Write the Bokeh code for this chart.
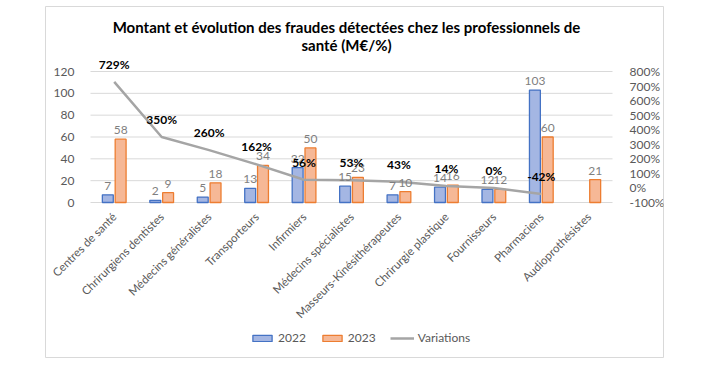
import math
from bokeh.plotting import figure
from bokeh.models import (ColumnDataSource, Range1d, LinearAxis, FixedTicker,
                          PrintfTickFormatter, LabelSet, Label, Legend, LegendItem)
from bokeh.transform import dodge
from bokeh.embed import file_html
from bokeh.resources import INLINE
from bokeh.core.properties import value

categories = ["Centres de santé", "Chrirurgiens dentistes", "Médecins généralistes",
              "Transporteurs", "Infirmiers", "Médecins spécialistes",
              "Masseurs-Kinésithérapeutes", "Chrirurgie plastique", "Fournisseurs",
              "Pharmaciens", "Audioprothésistes"]
v2022 = [7, 2, 5, 13, 32, 15, 7, 14, 12, 103, None]
v2023 = [58, 9, 18, 34, 50, 23, 10, 16, 12, 60, 21]
variations = [729, 350, 260, 162, 56, 53, 43, 14, 0, -42, None]
left_ticks = [0, 20, 40, 60, 80, 100, 120]
right_ticks = [-100, 0, 100, 200, 300, 400, 500, 600, 700, 800]
title_lines = ["Montant et évolution des fraudes détectées chez les professionnels de",
               "santé (M€/%)"]

FONT = "Lato"
GRAY = "#595959"
n = len(categories)
xs = list(range(n))

def keep(vals):
    idx = [i for i, v in zip(xs, vals) if v is not None]
    vs = [v for v in vals if v is not None]
    return idx, vs

c22, y22 = keep(v2022)
c23, y23 = keep(v2023)
cv, yv = keep(variations)

src22 = ColumnDataSource(dict(x=c22, val=y22, lbl=[str(v) for v in y22]))
src23 = ColumnDataSource(dict(x=c23, val=y23, lbl=[str(v) for v in y23]))
srcv = ColumnDataSource(dict(x=cv, val=yv, lbl=[f"{v}%" for v in yv]))

# layout geometry (pixels)
W, H = 664, 358
FL, FR, FT, FB = 45, 663, 6, 357          # chart box = frame
PL, PR, PT, PB = 90, 612, 71, 202         # plot area
cw = (PR - PL) / n                        # px per category
ppu = (PB - PT) / (left_ticks[-1] - left_ticks[0])   # px per left unit
pct_per_unit = (right_ticks[-1] - right_ticks[0]) / (left_ticks[-1] - left_ticks[0])

x0 = -0.5 - (PL - FL) / cw
x1 = n - 0.5 + (FR - PR) / cw
y0 = -(FB - PB) / ppu
y1 = (PB - FT) / ppu

p = figure(x_range=Range1d(x0, x1), y_range=Range1d(y0, y1),
           width=W, height=H, output_backend="svg", toolbar_location=None,
           min_border_left=FL, min_border_right=W - FR, min_border_top=FT,
           min_border_bottom=H - FB)
p.outline_line_color = "#D9D9D9"
p.outline_line_width = 1
p.extra_y_ranges = {"pct": Range1d(right_ticks[0] + pct_per_unit * y0,
                                   right_ticks[0] + pct_per_unit * y1)}
p.xgrid.grid_line_color = None
p.ygrid.grid_line_color = None

# gridlines limited to plot area
p.segment(x0=[-0.5] * len(left_ticks), x1=[n - 0.5] * len(left_ticks),
          y0=left_ticks, y1=left_ticks, line_color="#D9D9D9", line_width=1)

bw = 0.23
off = 0.135
r22 = p.vbar(x=dodge("x", -off), top="val", width=bw, source=src22,
             fill_color="#A4B6E3", line_color="#4472C4", line_width=1.3)
r23 = p.vbar(x=dodge("x", off), top="val", width=bw, source=src23,
             fill_color="#F6B896", line_color="#ED7D31", line_width=1.3)
rv = p.line(x="x", y="val", source=srcv, y_range_name="pct",
            line_color="#A5A5A5", line_width=2.5)

for src, dx in ((src22, -off), (src23, off)):
    p.add_layout(LabelSet(x=dodge("x", dx), y="val", text="lbl", source=src,
                          text_align="center", text_baseline="bottom", y_offset=5,
                          text_color="#7F7F7F", text_font=value(FONT), text_font_size="12px"))
p.add_layout(LabelSet(x="x", y="val", text="lbl", source=srcv, y_range_name="pct",
                      text_align="center", text_baseline="bottom", y_offset=10,
                      text_color="black", text_font=value(FONT), text_font_style="bold",
                      text_font_size="12px"))

tx = (346 - PL) / cw - 0.5
p.add_layout(Label(x=tx, y=(PB - 26) / ppu, text=title_lines[0], text_align="center",
                   text_baseline="middle", text_font=FONT, text_font_style="bold",
                   text_font_size="15px", text_color="black"))
p.add_layout(Label(x=tx, y=(PB - 44) / ppu, text=title_lines[1], text_align="center",
                   text_baseline="middle", text_font=FONT, text_font_style="bold",
                   text_font_size="15px", text_color="black"))

# axes
p.yaxis.ticker = FixedTicker(ticks=left_ticks)
p.yaxis.fixed_location = -0.5
ax_r = LinearAxis(y_range_name="pct", ticker=FixedTicker(ticks=right_ticks),
                  formatter=PrintfTickFormatter(format="%d%%"))
p.add_layout(ax_r, "right")
ax_r.fixed_location = n - 0.5
p.xaxis.ticker = FixedTicker(ticks=xs)
p.xaxis.major_label_overrides = {i: c for i, c in zip(xs, categories)}
p.xaxis.fixed_location = 0
for ax in (p.yaxis[0], ax_r, p.xaxis[0]):
    ax.axis_line_color = None
    ax.major_tick_line_color = None
    ax.minor_tick_line_color = None
    ax.major_label_text_color = GRAY
    ax.major_label_text_font = FONT
    ax.major_label_text_font_size = "12px"
p.yaxis[0].major_label_standoff = 10
ax_r.major_label_standoff = 11
p.xaxis.major_label_orientation = math.pi / 4
p.xaxis.major_label_standoff = 6
p.xaxis.major_label_text_font_size = "11.5px"

legend = Legend(items=[LegendItem(label="2022", renderers=[r22]),
                       LegendItem(label="2023", renderers=[r23]),
                       LegendItem(label="Variations", renderers=[rv])],
                orientation="horizontal", location=(205, 12), border_line_color=None,
                background_fill_alpha=0, glyph_width=24, glyph_height=8, spacing=14,
                label_standoff=4, label_text_font=FONT, label_text_font_size="12px",
                label_text_color=GRAY, padding=2, margin=0)
p.add_layout(legend)

open("out.html", "w").write(file_html(p, INLINE))
